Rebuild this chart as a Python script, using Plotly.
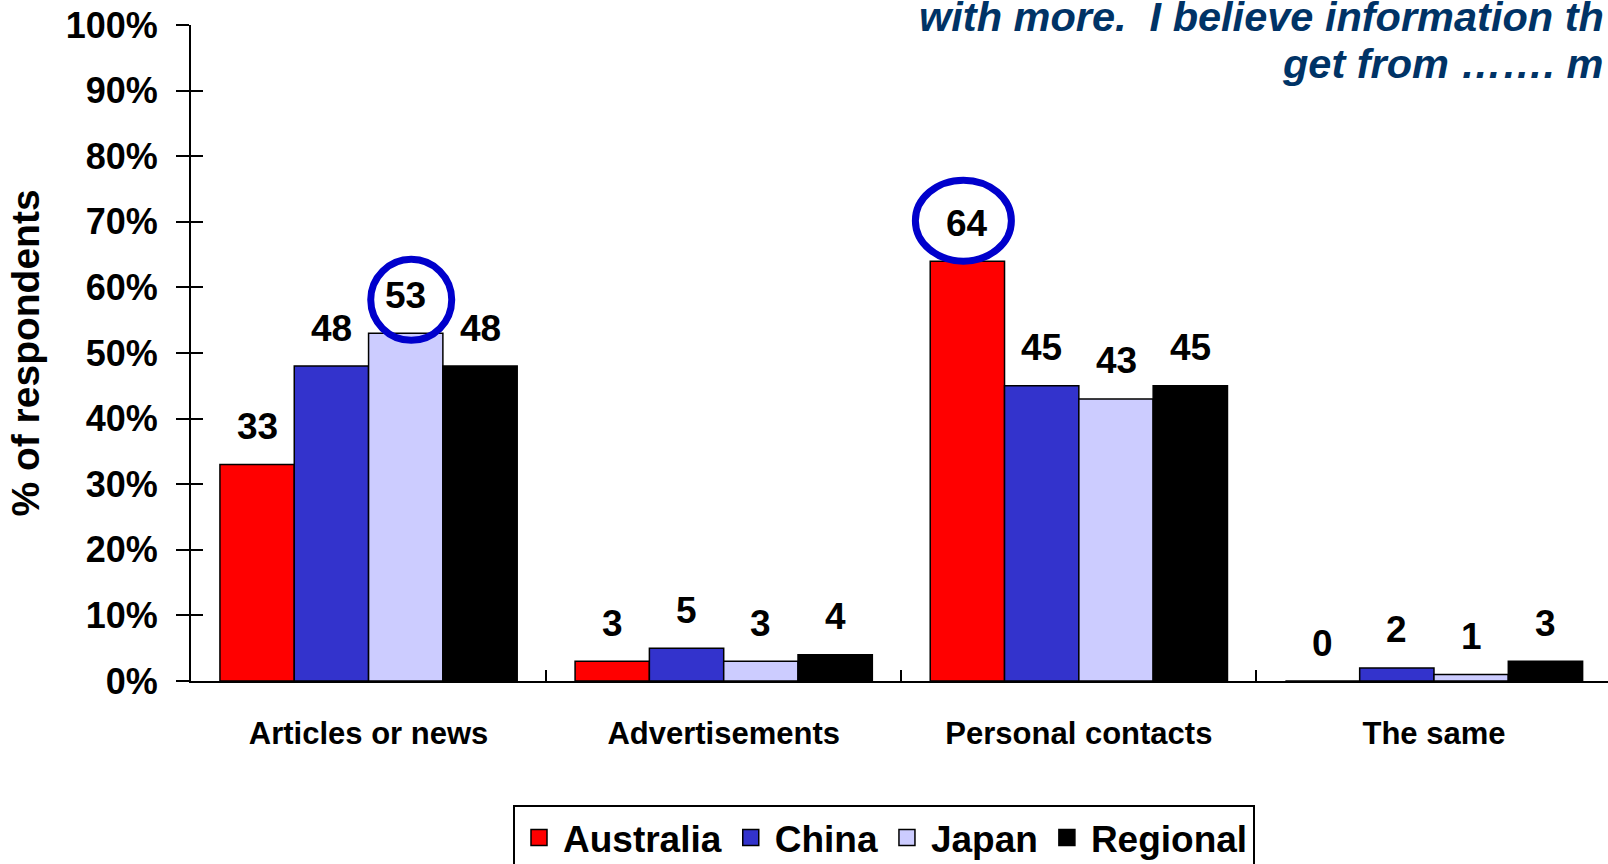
import plotly.graph_objects as go

categories = ["Articles or news", "Advertisements", "Personal contacts", "The same"]
series_names = ["Australia", "China", "Japan", "Regional"]
australia = [33, 3, 64, 0]
china = [48, 5, 45, 2]
japan = [53, 3, 43, 1]
regional = [48, 4, 45, 3]
series_values = [australia, china, japan, regional]
series_colors = ["#FF0000", "#3333CC", "#CCCCFF", "#000000"]
y_ticks = [0, 10, 20, 30, 40, 50, 60, 70, 80, 90, 100]
y_tick_labels = ["0%", "10%", "20%", "30%", "40%", "50%", "60%", "70%", "80%", "90%", "100%"]
highlights = [("Articles or news", "Japan"), ("Personal contacts", "Australia")]
title_line1 = "with more.\u00a0 I believe information th"
title_line2 = "get from \u2026\u2026. m"

W, H = 1608, 864
ML, MR, MT, MB = 191, 0, 25, 183
ARIAL = "Liberation Sans, Arial, sans-serif"
BARGAP = 0.163
n_series = len(series_names)
bw = (1 - BARGAP) / n_series

fig = go.Figure()
for name, vals, col in zip(series_names, series_values, series_colors):
    fig.add_trace(go.Bar(
        x=categories, y=vals, name=name, legendgroup=name, showlegend=False,
        marker=dict(color=col, line=dict(color="black", width=1.5)),
        hoverinfo="skip",
    ))
# legend entries (larger square swatches than bar legend symbols allow)
for name, col in zip(series_names, series_colors):
    fig.add_trace(go.Scatter(
        x=[None], y=[None], mode="markers", name=name, legendgroup=name,
        marker=dict(symbol="square", size=16, color=col, line=dict(color="black", width=1.5)),
        hoverinfo="skip",
    ))
# empty trace to carry the inside-tick overlay axis
fig.add_trace(go.Scatter(x=[], y=[], yaxis="y2", showlegend=False, hoverinfo="skip"))

annotations = []
for j, vals in enumerate(series_values):
    off = (j - (n_series - 1) / 2) * bw
    for i, v in enumerate(vals):
        annotations.append(dict(
            x=i + off, y=v, xref="x", yref="y", text=str(v), showarrow=False,
            yanchor="bottom", xanchor="center", yshift=15.5,
            font=dict(family=ARIAL, size=37, color="black", weight="bold"),
        ))

plot_w = W - ML - MR
plot_h = H - MT - MB
def px_to_paper_x(px):
    return (px - ML) / plot_w
def px_to_paper_y(py):
    return (H - MB - py) / plot_h

title_font = dict(family=ARIAL, size=41.5, color="#003366", weight="bold", style="italic")
annotations.append(dict(
    x=px_to_paper_x(1606), y=px_to_paper_y(42), xref="paper", yref="paper",
    text=title_line1, showarrow=False, xanchor="right", yanchor="bottom",
    font=title_font,
))
annotations.append(dict(
    x=px_to_paper_x(1606), y=px_to_paper_y(89.5), xref="paper", yref="paper",
    text=title_line2, showarrow=False, xanchor="right", yanchor="bottom",
    font=title_font,
))

shapes = []
circle_px = {
    ("Articles or news", "Japan"): (-35, 46, -7, 74),
    ("Personal contacts", "Australia"): (-52, 44, 0, 81),
}
for cat, ser in highlights:
    i = categories.index(cat)
    j = series_names.index(ser)
    off = (j - (n_series - 1) / 2) * bw
    x0, x1, y0, y1 = circle_px[(cat, ser)]
    shapes.append(dict(
        type="circle", xref="x", yref="y",
        xsizemode="pixel", ysizemode="pixel",
        xanchor=i + off, yanchor=series_values[j][i],
        x0=x0, x1=x1, y0=y0, y1=y1,
        line=dict(color="#0000CC", width=7),
    ))

fig.update_layout(
    width=W, height=H,
    margin=dict(l=ML, r=MR, t=MT, b=MB, pad=0, autoexpand=False),
    paper_bgcolor="white", plot_bgcolor="white",
    barmode="group", bargap=BARGAP, bargroupgap=0,
    showlegend=True,
    legend=dict(
        orientation="h", x=px_to_paper_x(513), xanchor="left",
        y=px_to_paper_y(805), yanchor="top",
        bordercolor="black", borderwidth=2, bgcolor="white",
        font=dict(family=ARIAL, size=37, color="black", weight="bold"),
        itemwidth=38,
        traceorder="normal", itemclick=False, itemdoubleclick=False,
    ),
    xaxis=dict(
        type="category", range=[-0.5, 3.49], automargin=False,
        showline=True, linecolor="black", linewidth=2,
        ticks="inside", tickson="boundaries", ticklen=11, tickwidth=2, tickcolor="black",
        showgrid=False, zeroline=False,
        tickfont=dict(family=ARIAL, size=31, color="black", weight="bold"),
        ticklabelstandoff=24,
    ),
    yaxis=dict(
        range=[0, 100], tickmode="array", tickvals=y_ticks, ticktext=y_tick_labels,
        automargin=False,
        showline=True, linecolor="black", linewidth=2,
        ticks="outside", ticklen=13, tickwidth=2, tickcolor="black",
        showgrid=False, zeroline=False,
        tickfont=dict(family=ARIAL, size=36, color="black", weight="bold"),
        ticklabelstandoff=11,
        title=dict(text="% of respondents", standoff=14,
                   font=dict(family=ARIAL, size=39, color="black", weight="bold")),
    ),
    yaxis2=dict(
        overlaying="y", side="left", range=[0, 100], tickvals=y_ticks,
        ticks="inside", ticklen=12, tickwidth=2, tickcolor="black", automargin=False,
        showticklabels=False, showline=False, showgrid=False, zeroline=False,
    ),
    annotations=annotations,
    shapes=shapes,
)

fig.write_html("out.html", config={"displayModeBar": False},
               post_script="document.body.style.margin='0px';")
